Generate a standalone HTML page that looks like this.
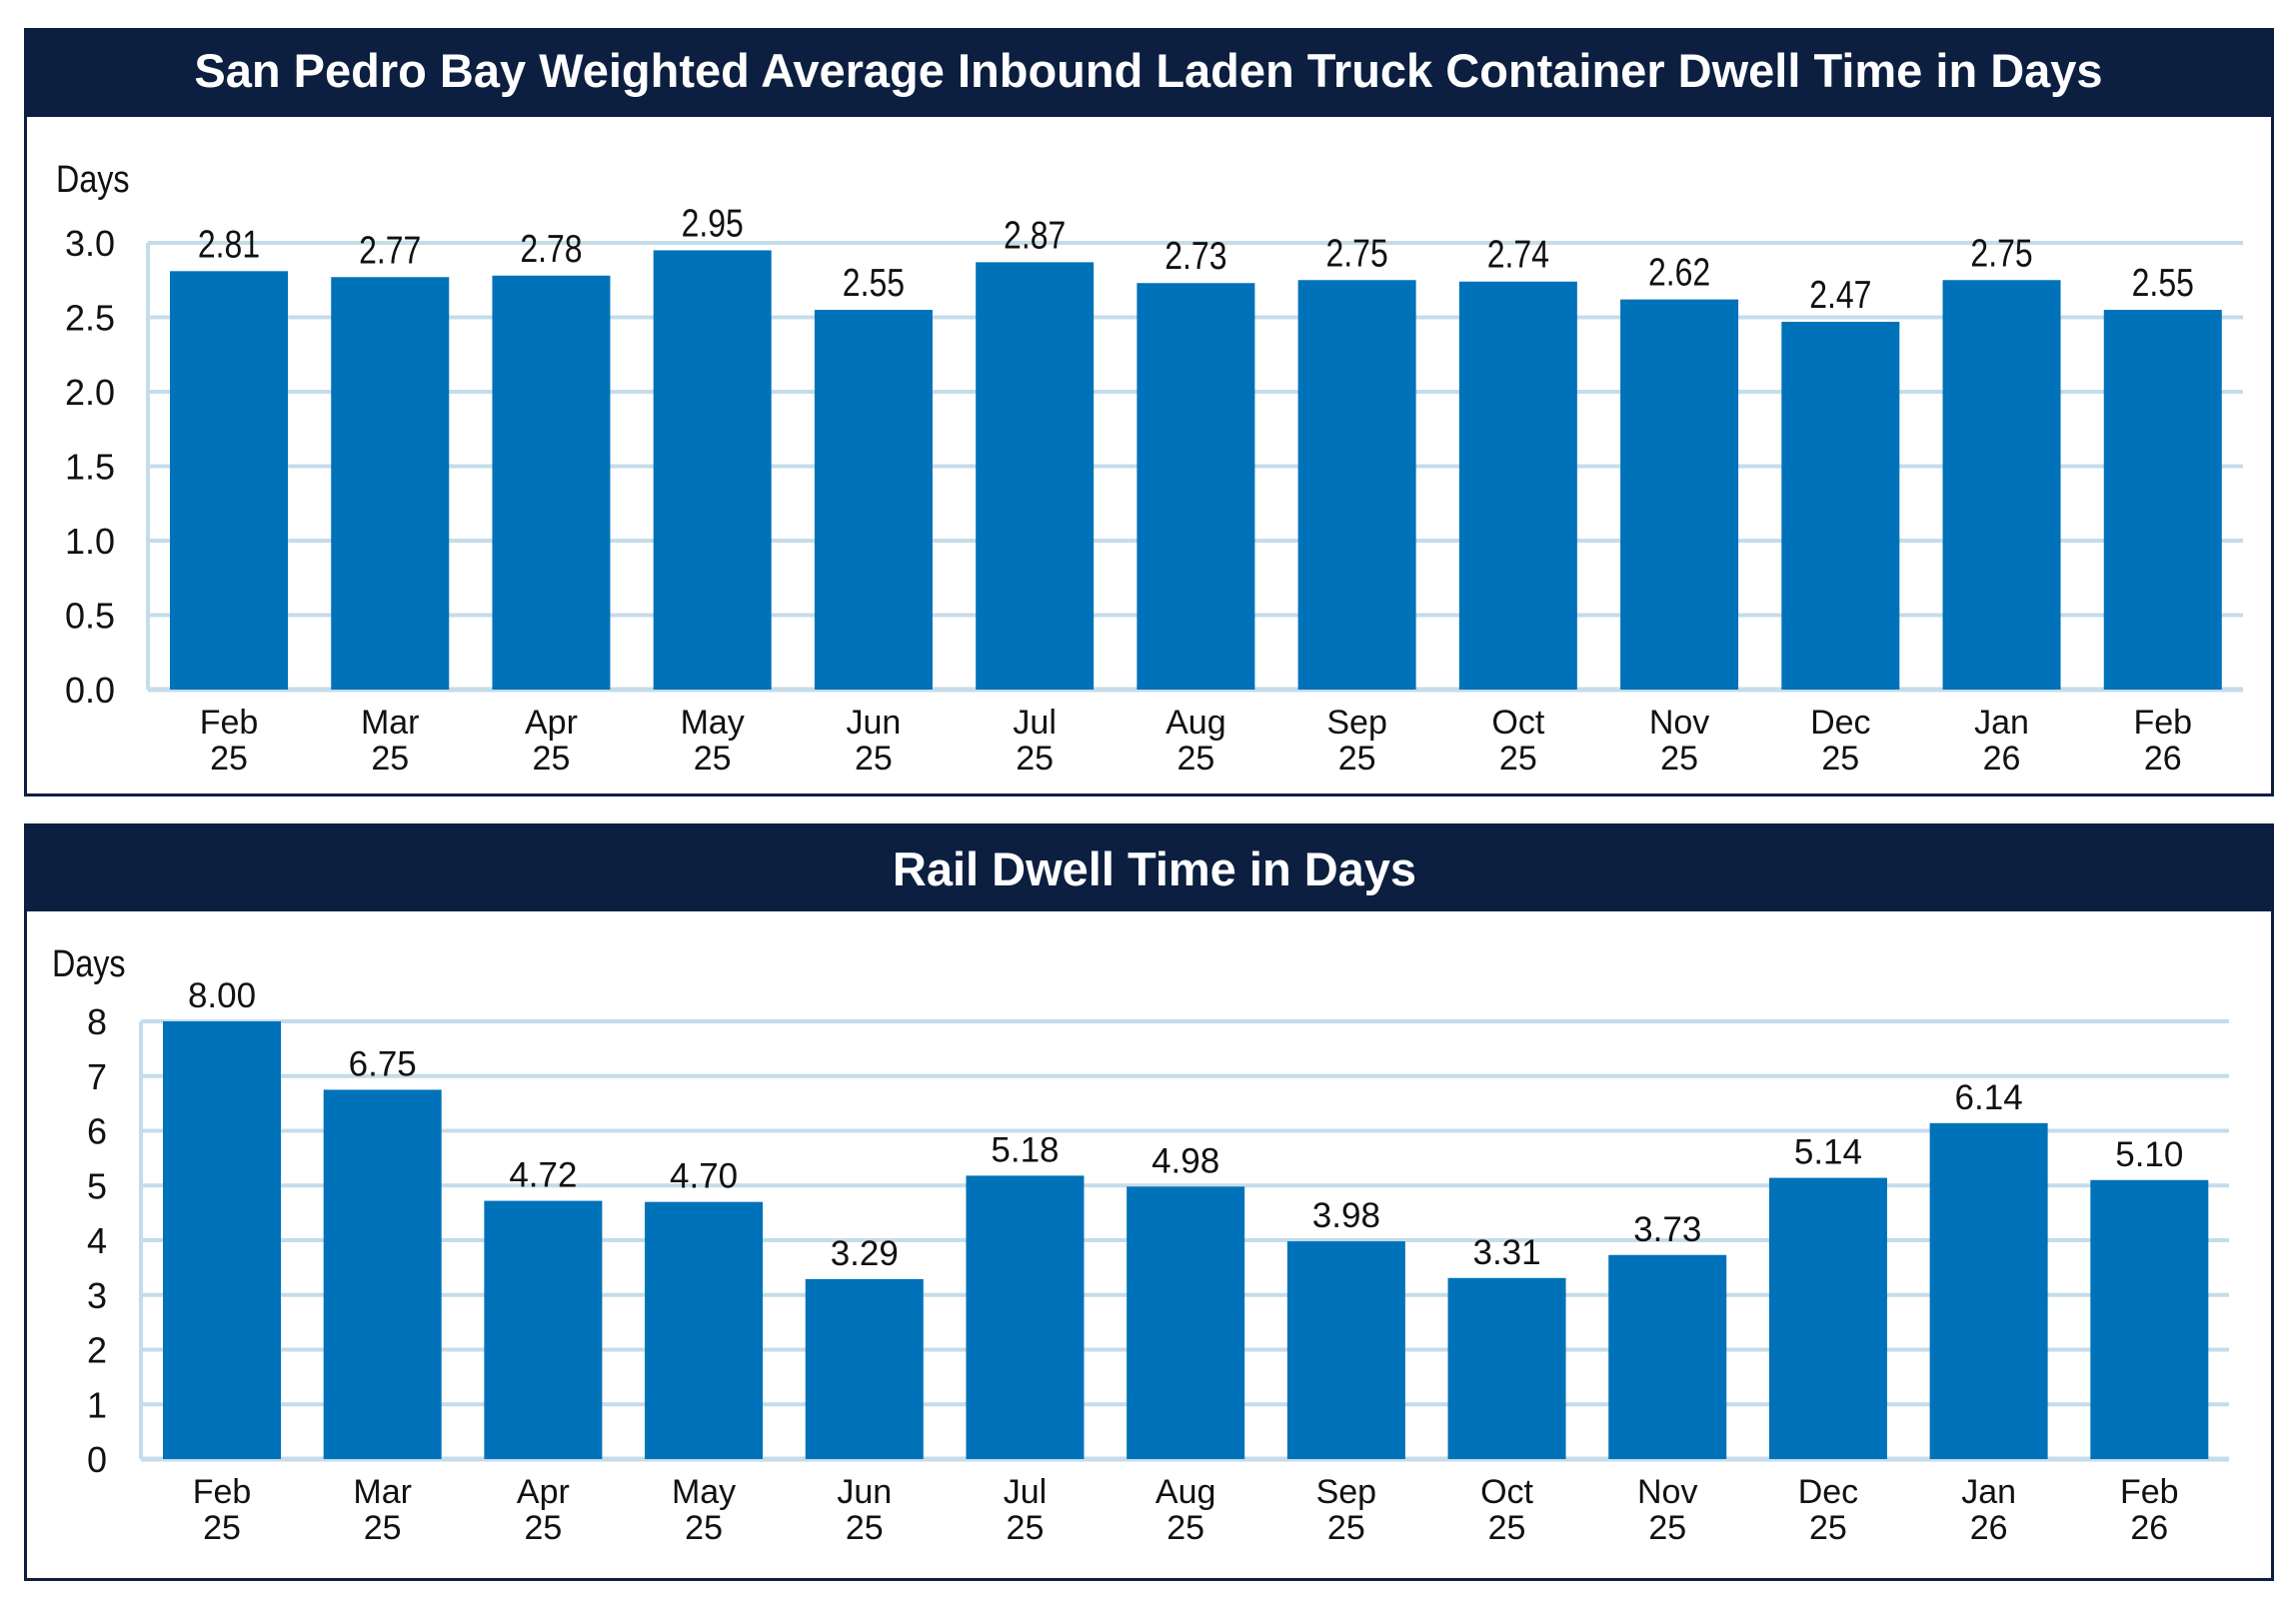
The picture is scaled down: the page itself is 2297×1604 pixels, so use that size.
<!DOCTYPE html>
<html><head><meta charset="utf-8"><style>
html,body{margin:0;padding:0;background:#fff;}
svg{display:block;font-family:"Liberation Sans",sans-serif;}
</style></head><body>
<svg id="s" width="2297" height="1604" viewBox="0 0 2297 1604" xmlns="http://www.w3.org/2000/svg">
<rect x="25.5" y="29.5" width="2248" height="766" fill="#fff" stroke="#0c1f40" stroke-width="3"/>
<rect x="24" y="28" width="2251" height="89" fill="#0c1f40"/>
<text x="1149" y="87" text-anchor="middle" font-size="47" font-weight="bold" fill="#fff">San Pedro Bay Weighted Average Inbound Laden Truck Container Dwell Time in Days</text>
<g transform="translate(56,192) scale(0.85,1)"><text font-size="38" fill="#111">Days</text></g>
<g id="top"></g>
<rect x="25.5" y="825.5" width="2248" height="755" fill="#fff" stroke="#0c1f40" stroke-width="3"/>
<rect x="24" y="824" width="2251" height="88" fill="#0c1f40"/>
<text x="1155" y="886" text-anchor="middle" font-size="47" font-weight="bold" fill="#fff">Rail Dwell Time in Days</text>
<g transform="translate(52,977) scale(0.85,1)"><text font-size="38" fill="#111">Days</text></g>
<g id="bot"></g>
</svg>
<script>
const categories = ["Feb","Mar","Apr","May","Jun","Jul","Aug","Sep","Oct","Nov","Dec","Jan","Feb"];
const years = ["25","25","25","25","25","25","25","25","25","25","25","26","26"];
const truckValues = [2.81,2.77,2.78,2.95,2.55,2.87,2.73,2.75,2.74,2.62,2.47,2.75,2.55];
const truckTicks = ["0.0","0.5","1.0","1.5","2.0","2.5","3.0"];
const railValues = [8.00,6.75,4.72,4.70,3.29,5.18,4.98,3.98,3.31,3.73,5.14,6.14,5.10];
const railTicks = ["0","1","2","3","4","5","6","7","8"];
const NS = "http://www.w3.org/2000/svg";
function mk(tag, attrs, parent){const e=document.createElementNS(NS,tag);for(const k in attrs)e.setAttribute(k,attrs[k]);parent.appendChild(e);return e;}
function chart(g, vals, ticks, o){
  const maxV = parseFloat(ticks[ticks.length-1]);
  const y = v => o.y0 - (v/maxV)*(o.y0-o.yTop);
  const slot = (o.right-o.left)/vals.length;
  const x = i => o.left + i*slot;
  ticks.forEach(t=>{
    const v=parseFloat(t);
    const ln=mk('line',{x1:o.left,x2:o.right,y1:y(v),y2:y(v),stroke:'#c5dcea','stroke-width':v===0?5:4},g);
    
    
    const tx=mk('text',{x:o.tickX,y:y(v)+13,'text-anchor':'end','font-size':36,fill:'#111'},g);
    tx.textContent=t;
    
    
  });
  mk('line',{x1:o.left,x2:o.left,y1:o.yTop,y2:o.y0,stroke:'#c5dcea','stroke-width':4},g);
  vals.forEach((v,i)=>{
    const r=mk('rect',{x:x(i)+22,y:y(v),width:118,height:o.y0-y(v),fill:'#0072b9'},g);
    
    
    const cx=x(i)+81;
    const lg=mk('g',{transform:`translate(${cx},${y(v)-14}) scale(${o.sx},1)`},g);
    const lt=mk('text',{'text-anchor':'middle','font-size':o.vfs,fill:'#111'},lg);
    lt.textContent=v.toFixed(2);
    
    
    const c1=mk('text',{x:cx,y:o.y0+44,'text-anchor':'middle','font-size':34,fill:'#111'},g);
    c1.textContent=categories[i];
    
    
    const c2=mk('text',{x:cx,y:o.y0+80,'text-anchor':'middle','font-size':34,fill:'#111'},g);
    c2.textContent=years[i];
    
    
  });
}
chart(document.getElementById('top'), truckValues, truckTicks, {left:148,right:2244,y0:690,yTop:243,tickX:115,vfs:39,sx:0.82});
chart(document.getElementById('bot'), railValues, railTicks, {left:141,right:2230,y0:1460,yTop:1022,tickX:107,vfs:35,sx:1});
</script>
</body></html>
